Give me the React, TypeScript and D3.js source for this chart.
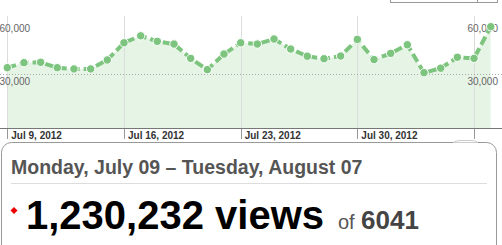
import React from "react";
import * as d3 from "d3";

const startDate = new Date(2012, 6, 9);
const endDate = new Date(2012, 7, 7);
const dailyViews = [
  33700, 36500, 36700, 33700, 33000, 33000, 38000, 47600, 51500, 48400,
  46900, 38900, 32600, 41300, 47600, 46900, 49700, 44100, 40100, 38700,
  40200, 49500, 38200, 41700, 46500, 30900, 33400, 39500, 38900, 56600,
];
const yTicks = [30000, 60000];
const xTickDates = [
  new Date(2012, 6, 9),
  new Date(2012, 6, 16),
  new Date(2012, 6, 23),
  new Date(2012, 6, 30),
  new Date(2012, 7, 6),
];
const xTickLabels = ["Jul 9, 2012", "Jul 16, 2012", "Jul 23, 2012", "Jul 30, 2012", ""];
const headerText = "Monday, July 09 \u2013 Tuesday, August 07";
const totalViews = "1,230,232";
const totalLabel = "views";
const ofText = "of";
const postsCount = "6041";

const W = 502;
const H = 245;

export default function App() {
  const dates = dailyViews.map((_, i) => d3.timeDay.offset(startDate, i));
  const x = d3.scaleTime().domain([startDate, endDate]).range([7.3, 490.7]);
  const y = d3.scaleLinear().domain([0, 60000]).range([128, 20.6]);
  const data = dailyViews.map((v, i) => ({ d: dates[i], v }));
  const line = d3
    .line<{ d: Date; v: number }>()
    .x((p) => x(p.d))
    .y((p) => y(p.v));
  const area = d3
    .area<{ d: Date; v: number }>()
    .x((p) => x(p.d))
    .y0(y(0))
    .y1((p) => y(p.v));
  const font = "Arial, 'Liberation Sans', Helvetica, sans-serif";
  const green = "#7dc57f";

  return (
    <svg
      width={W}
      height={H}
      style={{ position: "absolute", left: 0, top: 0, background: "#fff" }}
      fontFamily={font}
    >
      {/* top-right control */}
      <rect x={390.5} y={-10} width={107} height={12.5} fill="#fff" stroke="#999" />
      <line x1={477.5} x2={477.5} y1={-10} y2={2.5} stroke="#999" />

      {/* area */}
      <path d={area(data) || ""} fill="#e6f4e6" />

      {/* vertical gridlines */}
      {xTickDates.map((t, i) => (
        <line
          key={"g" + i}
          x1={Math.round(x(t)) + 0.5}
          x2={Math.round(x(t)) + 0.5}
          y1={16}
          y2={128}
          stroke="#dcdcdc"
        />
      ))}

      {/* horizontal dotted gridline */}
      <line
        x1={0}
        x2={W}
        y1={Math.round(y(yTicks[0])) + 0.5}
        y2={Math.round(y(yTicks[0])) + 0.5}
        stroke="#aaa"
        strokeDasharray="1,2"
      />

      {/* y labels */}
      {yTicks.map((t, i) => (
        <g key={"y" + i} fontSize={10} fill="#666">
          <text x={-0.5} y={y(t) + 11}>
            {d3.format(",")(t)}
          </text>
          <text x={498} y={y(t) + 11} textAnchor="end">
            {d3.format(",")(t)}
          </text>
        </g>
      ))}

      {/* line */}
      <path
        d={line(data) || ""}
        fill="none"
        stroke={green}
        strokeWidth={4}
        strokeDasharray="9,4"
        strokeLinejoin="round"
      />
      {data.map((p, i) => (
        <circle
          key={"c" + i}
          cx={x(p.d)}
          cy={y(p.v)}
          r={4.2}
          fill={green}
          stroke="#fff"
          strokeWidth={1}
        />
      ))}

      {/* x axis */}
      <line x1={0} x2={W} y1={128.5} y2={128.5} stroke="#777" />
      {xTickDates.map((t, i) => (
        <g key={"t" + i}>
          <line
            x1={Math.round(x(t)) + 0.5}
            x2={Math.round(x(t)) + 0.5}
            y1={129}
            y2={139}
            stroke="#999"
          />
          <text x={x(t) + 4} y={138.5} fontSize={10} fontWeight="bold" fill="#333">
            {xTickLabels[i]}
          </text>
        </g>
      ))}

      {/* summary box */}
      <rect x={1.5} y={142.5} width={495} height={140} rx={10} fill="#fff" stroke="#999" />
      <path d="M453,142.5 Q456,140.5 460,140.5 L472,140.5 Q476,140.5 478,142.5" fill="#fff" stroke="#ccc" />
      <text x={11} y={174} fontSize={19.5} fontWeight="bold" fill="#555">
        {headerText}
      </text>
      <line x1={11} x2={487} y1={183.5} y2={183.5} stroke="#ddd" />
      <path d="M14,207 L17.5,210.5 L14,214 L10.5,210.5 Z" fill="#e00" />
      <text x={26} y={229} fontSize={40} fontWeight="bold" fill="#000">
        {totalViews} {totalLabel}
      </text>
      <text x={338} y={229} fontSize={20} fill="#555">
        {ofText}
      </text>
      <text x={361} y={229} fontSize={26} fontWeight="bold" fill="#444">
        {postsCount}
      </text>
    </svg>
  );
}
